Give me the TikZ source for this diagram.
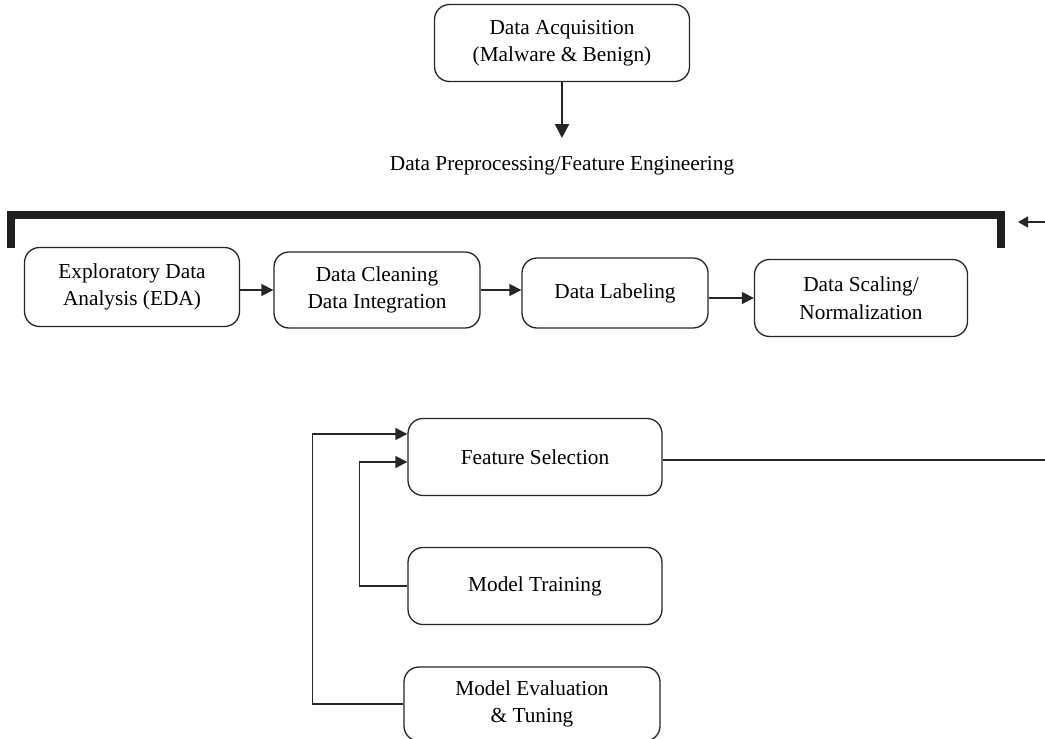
\documentclass[tikz,border=0pt]{standalone}
\usepackage{fontspec}
\setmainfont{Liberation Serif}
\usetikzlibrary{arrows.meta}
\newcommand{\dfont}{\fontsize{21.3}{27.5}\selectfont}
\begin{document}
\begin{tikzpicture}[x=1pt,y=-1pt,
  box/.style={draw=black!85, line width=1.3pt, rounded corners=15pt, align=center, font=\dfont, inner sep=2pt},
  plain/.style={font=\dfont, inner sep=2pt},
  conn/.style={draw=black!85, line width=1.3pt},
  arr/.style={conn, -{Triangle[length=12pt,width=12pt]}},
  arrsmall/.style={conn, -{Triangle[length=10pt,width=11pt]}},
  arrbig/.style={draw=black!85, line width=2.4pt, -{Triangle[length=14pt,width=14pt]}},
  bracket/.style={draw=black!88, line width=8pt, line join=miter}]
\useasboundingbox (0,0) rectangle (1045,739);
\fill[white] (0,0) rectangle (1045,739);

\node[box, minimum width=255pt, minimum height=77pt] (acq) at (562,43) {Data Acquisition\\(Malware \& Benign)};
\node[plain] (pre) at (562,166) {Data Preprocessing/Feature Engineering};
\draw[arrbig] (acq.south) -- (acq.south |- 0,138) coordinate (acqtip);

% bracket
\coordinate (bl) at (11,248);
\coordinate (btl) at (11,215);
\coordinate (btr) at (1001,215);
\coordinate (br) at (1001,248);
\draw[bracket] (bl) -- (btl) -- (btr) -- (br);

% incoming loop arrow at right edge
\coordinate (loopin) at (1045,222);
\coordinate (looptip) at (1018,222);
\draw[arrsmall] (loopin) -- (looptip);

% preprocessing row
\node[box, minimum width=215pt, minimum height=79pt] (eda) at (132,287) {Exploratory Data\\Analysis (EDA)};
\node[box, minimum width=206pt, minimum height=76pt] (clean) at (377,290) {Data Cleaning\\Data Integration};
\node[box, minimum width=186pt, minimum height=70pt] (lab) at (615,293) {Data Labeling};
\node[box, minimum width=213pt, minimum height=77pt] (scal) at (861,298) {Data Scaling/\\Normalization};

\draw[arr] (eda.east |- clean.west) -- (clean.west);
\draw[arr] (clean.east) -- (clean.east -| lab.west);
\draw[arr] (lab.east |- scal.west) -- (scal.west);

% modelling
\node[box, minimum width=254pt, minimum height=77pt] (fs) at (535,457) {Feature Selection};
\node[box, minimum width=254pt, minimum height=77pt] (mt) at (535,586) {Model Training};
\node[box, minimum width=256pt, minimum height=74pt] (me) at (532,704) {Model Evaluation\\\& Tuning};

\coordinate (fsout) at (1045,460);
\draw[conn] (fs.east |- fsout) -- (fsout);
\draw[arr] (mt.west) -- ++(-48,0) |- ([yshift=-5pt]fs.west);
\draw[arr] (me.west) -- ++(-91,0) |- ([yshift=23pt]fs.west);
\end{tikzpicture}
\end{document}
